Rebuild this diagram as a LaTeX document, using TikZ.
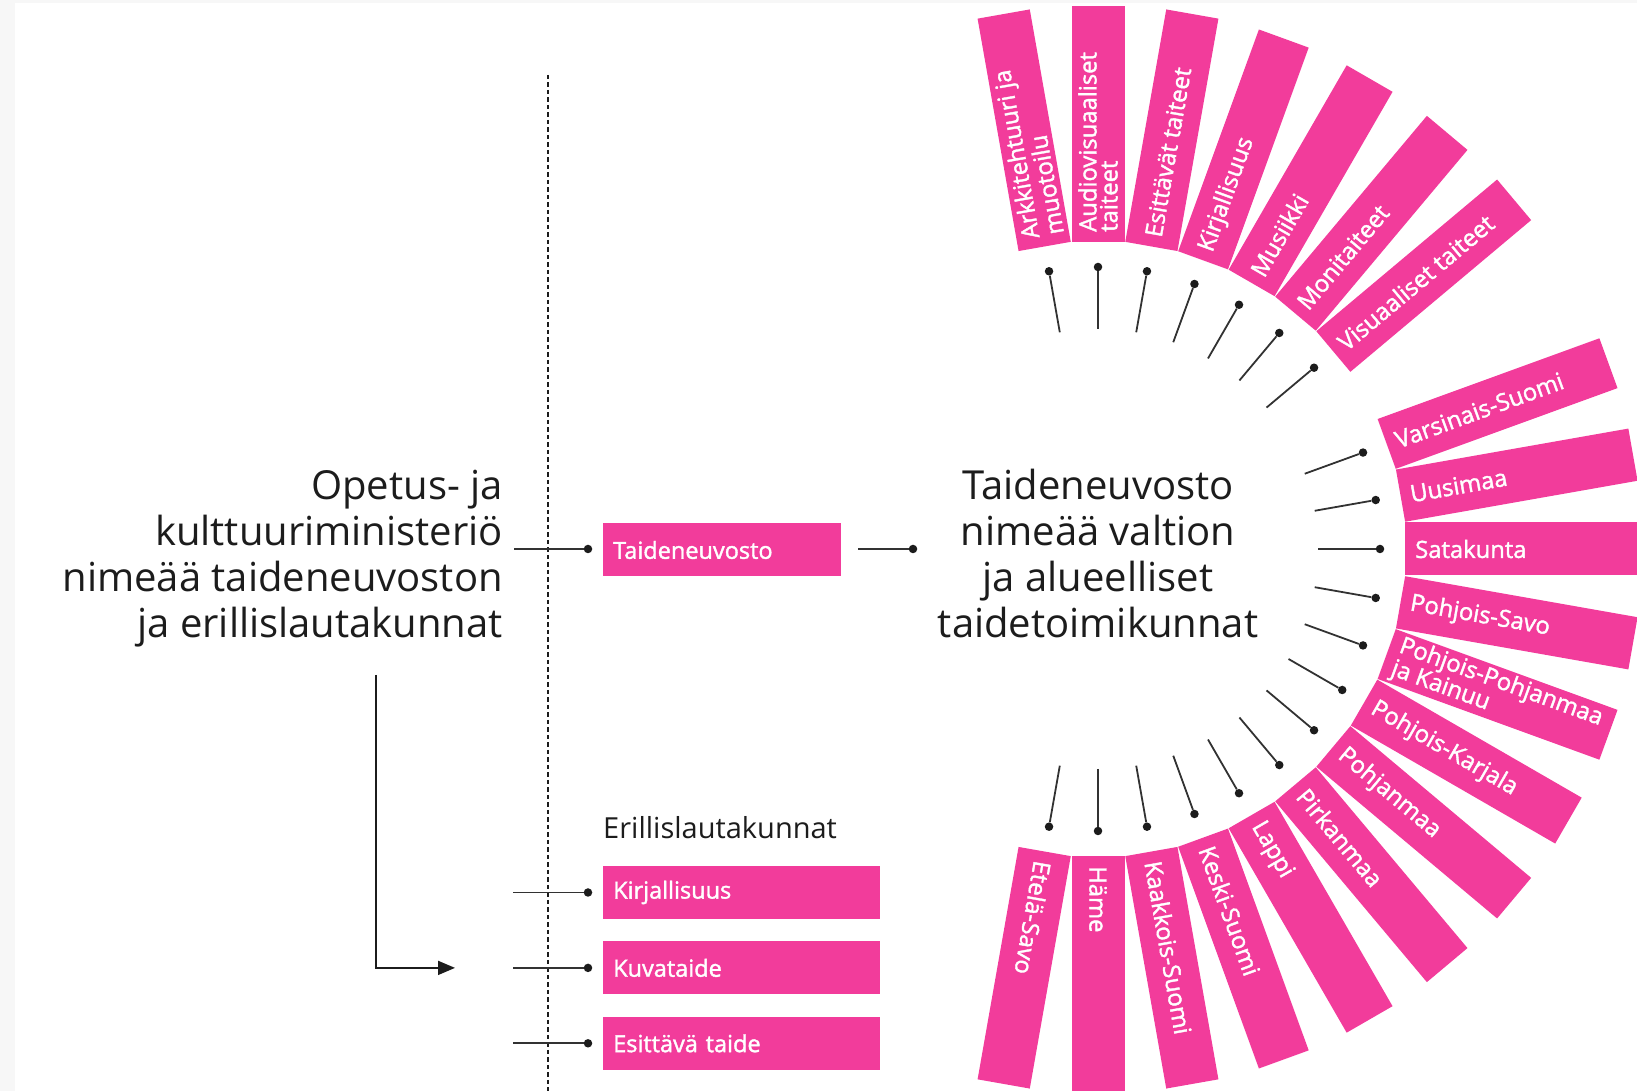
\documentclass[tikz,border=0pt]{standalone}
\usepackage{fontspec}
\setmainfont{Open Sans}
\newfontfamily\semib[FakeBold=1.6]{Open Sans}
\usepackage{xcolor}
\usetikzlibrary{arrows.meta,positioning}
\definecolor{rosa}{RGB}{242,60,155}
\definecolor{ink}{RGB}{28,28,28}
\definecolor{wirec}{RGB}{50,50,50}

\begin{document}
\begin{tikzpicture}[x=1pt,y=1pt,
  bar/.style={fill=rosa, minimum width=236pt, minimum height=53pt, inner sep=0pt, anchor=west},
  barlbl/.style={text=white, font=\semib\fontsize{23.8}{21}\selectfont, align=left, inner sep=0pt, anchor=west},
  box/.style={fill=rosa, minimum height=53pt, inner xsep=10pt, inner ysep=0pt, anchor=west, align=left,
    text=white, font=\semib\fontsize{23.5}{24}\selectfont},
  pin/.style={circle, fill=ink, inner sep=0pt, minimum size=8.5pt},
  wire/.style={line width=1.8pt, draw=wirec},
  big/.style={font=\fontsize{40}{46}\selectfont, text=ink, inner sep=0pt}]
\useasboundingbox (0,0) rectangle (1637,1091);
\clip (0,0) rectangle (1637,1091);
\fill[black!3] (0,0) rectangle (15,1091);
\fill[black!3] (0,1088) rectangle (1637,1091);

\coordinate (dtop) at (548,1016);
\coordinate (dbot) at (548,0);
\draw[ink, line width=1.3pt, dash pattern=on 4.5pt off 3pt] (dtop) -- (dbot);

\node[big, align=right, anchor=east] (okm) at (503,532)
  {Opetus- ja\\kulttuuriministeriö\\nimeää taideneuvoston\\ja erillislautakunnat};
\node[big, align=center] (tt) at (1098,537)
  {Taideneuvosto\\nimeää valtion\\ja alueelliset\\taidetoimikunnat};

\node[box, text width=218pt] (tn) at (603,541) {Taideneuvosto};
\coordinate (tn0) at (514,542);
\node[pin] (tnp) at (588,542) {};
\draw[wire] (tn0) -- (tnp);
\coordinate (tt0) at (858,542);
\node[pin] (ttp) at (913,542) {};
\draw[wire] (tt0) -- (ttp);

\node[text=ink, inner sep=0pt, anchor=west, font=\fontsize{29}{32}\selectfont] (eri) at (603,263) {Erillislautakunnat};
\node[box, text width=257pt] (kir) at (603,198.5) {Kirjallisuus};
\node[box, text width=257pt, below=22pt of kir.south west, anchor=north west] (kuv) {Kuvataide};
\node[box, text width=257pt, below=22pt of kuv.south west, anchor=north west] (esi) {Esittävä taide};
\foreach \b in {kir,kuv,esi} {
  \coordinate (\b0) at (513,0 |- \b.west);
  \node[pin] (\b p) at (588,0 |- \b.west) {};
  \draw[wire] (\b0) -- (\b p);
}

\coordinate (a0) at (376,416);
\coordinate (a1) at (455,0 |- kuv.west);
\draw[ink, line width=1.8pt, -{Triangle[length=17pt,width=14pt]}] (a0) |- (a1);

\begin{scope}[shift={(1098,542)}]
\foreach \a/\t [count=\i] in {100/{Arkkitehtuuri ja\\muotoilu}, 90/{Audiovisuaaliset\\taiteet},
    80/Esittävät taiteet, 70/Kirjallisuus, 60/Musiikki, 50/Monitaiteet, 40/Visuaaliset taiteet} {
  \node[bar, rotate=\a] (art\i) at (\a:307) {};
  \node[barlbl, rotate=\a] (artl\i) at (\a:317) {\t};
  \node[pin] (artp\i) at (\a:282) {};
  \coordinate (artt\i) at (\a:220);
  \draw[wire] (artt\i) -- (artp\i);
}
\foreach \a/\t [count=\i] in {20/Varsinais-Suomi, 10/Uusimaa, 0/Satakunta, -10/Pohjois-Savo,
    -20/{Pohjois-Pohjanmaa\\ja Kainuu}, -30/Pohjois-Karjala, -40/Pohjanmaa, -50/Pirkanmaa,
    -60/Lappi, -70/Keski-Suomi, -80/Kaakkois-Suomi, -90/Häme, -100/Etelä-Savo} {
  \node[bar, rotate=\a] (reg\i) at (\a:307) {};
  \node[barlbl, rotate=\a] (regl\i) at (\a:317) {\t};
  \node[pin] (regp\i) at (\a:282) {};
  \coordinate (regt\i) at (\a:220);
  \draw[wire] (regt\i) -- (regp\i);
}
\end{scope}
\end{tikzpicture}
\end{document}
